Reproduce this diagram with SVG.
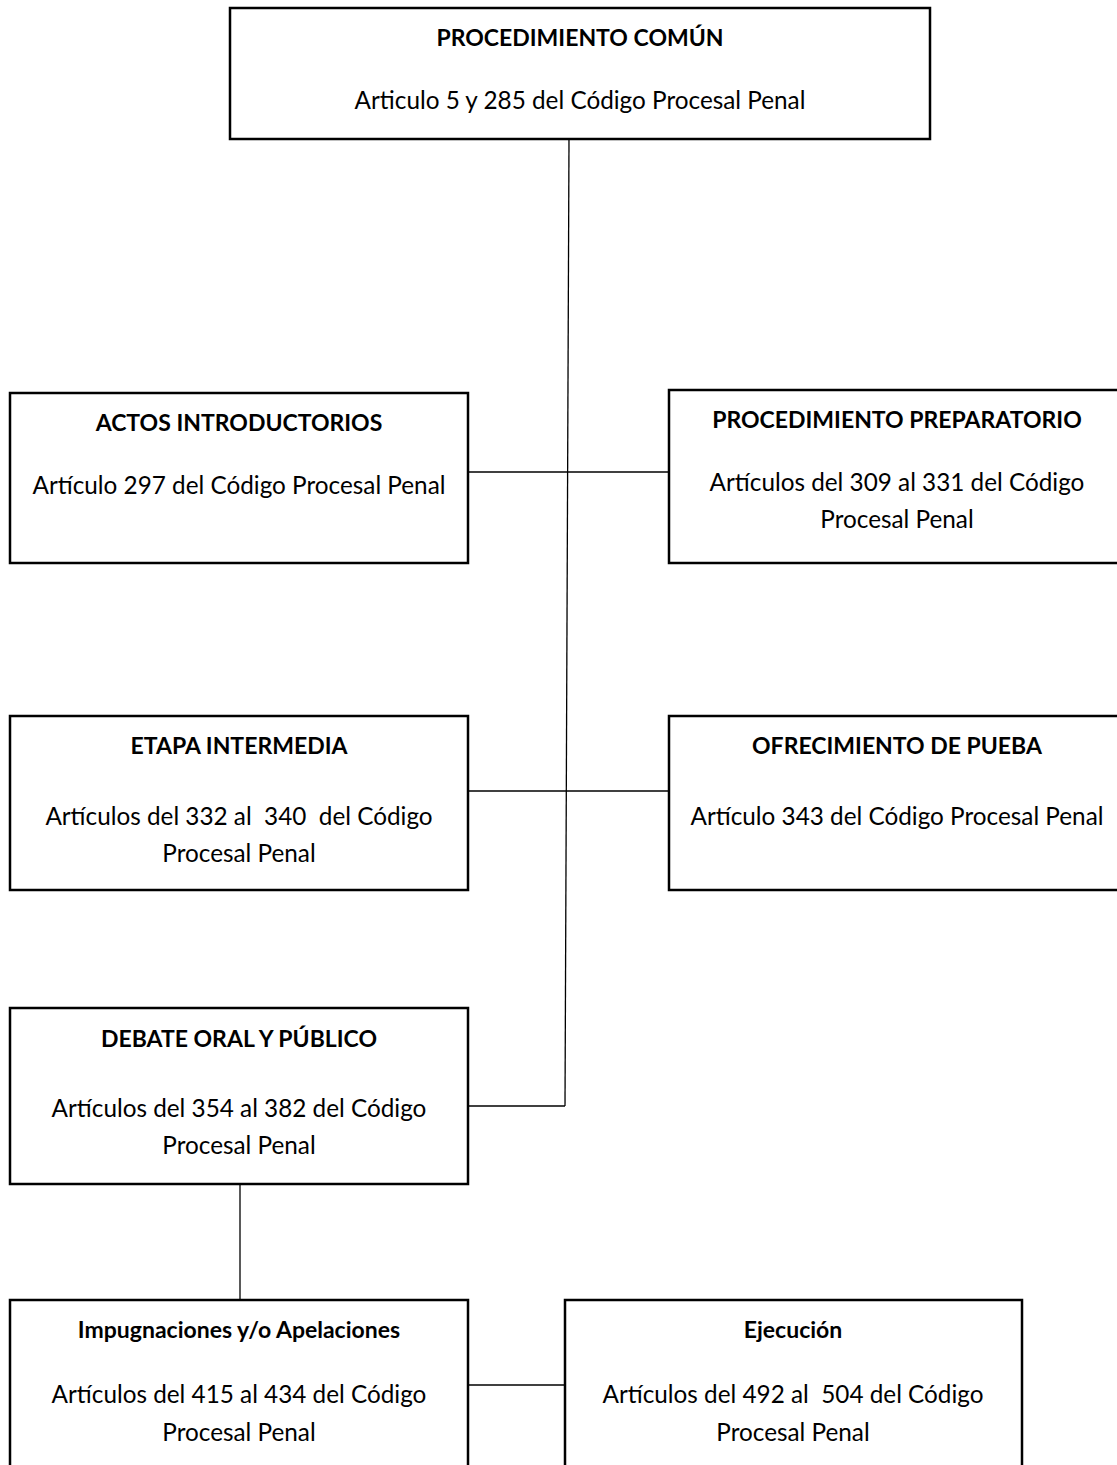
<svg xmlns="http://www.w3.org/2000/svg" width="1117" height="1465" viewBox="0 0 1117 1465">
<style>
.box{fill:#fff;stroke:#000;stroke-width:2.5}
.ln{stroke:#000;stroke-width:1.3;fill:none}
text{font-family:Lato,"Liberation Sans",sans-serif;font-size:24.3px;fill:#000;text-anchor:middle;white-space:pre}
.h{font-weight:bold;font-size:23px}
</style>
<rect width="1117" height="1465" fill="#fff"/>
<g id="connectors">
<line class="ln" x1="569" y1="139" x2="565" y2="1106"/>
<line class="ln" x1="468" y1="472" x2="669" y2="472"/>
<line class="ln" x1="468" y1="791" x2="669" y2="791"/>
<line class="ln" x1="468" y1="1106" x2="565" y2="1106"/>
<line class="ln" x1="240" y1="1184" x2="240" y2="1300"/>
<line class="ln" x1="468" y1="1385" x2="565" y2="1385"/>
</g>
<g id="n-comun">
<rect class="box" x="230" y="8" width="700" height="131"/>
<text class="h" x="580" y="46">PROCEDIMIENTO COMÚN</text>
<text x="580" y="109">Articulo 5 y 285 del Código Procesal Penal</text>
</g>
<g id="n-actos">
<rect class="box" x="10" y="393" width="458" height="170"/>
<text class="h" x="239" y="431">ACTOS INTRODUCTORIOS</text>
<text x="239" y="494">Artículo 297 del Código Procesal Penal</text>
</g>
<g id="n-preparatorio">
<rect class="box" x="669" y="390" width="460" height="173"/>
<text class="h" x="897" y="428">PROCEDIMIENTO PREPARATORIO</text>
<text x="897" y="491">Artículos del 309 al 331 del Código</text>
<text x="897" y="528">Procesal Penal</text>
</g>
<g id="n-intermedia">
<rect class="box" x="10" y="716" width="458" height="174"/>
<text class="h" x="239" y="754">ETAPA INTERMEDIA</text>
<text x="239" y="825" xml:space="preserve">Artículos del 332 al  340  del Código</text>
<text x="239" y="862">Procesal Penal</text>
</g>
<g id="n-prueba">
<rect class="box" x="669" y="716" width="460" height="174"/>
<text class="h" x="897" y="754">OFRECIMIENTO DE PUEBA</text>
<text x="897" y="825">Artículo 343 del Código Procesal Penal</text>
</g>
<g id="n-debate">
<rect class="box" x="10" y="1008" width="458" height="176"/>
<text class="h" x="239" y="1047">DEBATE ORAL Y PÚBLICO</text>
<text x="239" y="1117">Artículos del 354 al 382 del Código</text>
<text x="239" y="1154">Procesal Penal</text>
</g>
<g id="n-impugnaciones">
<rect class="box" x="10" y="1300" width="458" height="180"/>
<text class="h" x="239" y="1338">Impugnaciones y/o Apelaciones</text>
<text x="239" y="1403">Artículos del 415 al 434 del Código</text>
<text x="239" y="1441">Procesal Penal</text>
</g>
<g id="n-ejecucion">
<rect class="box" x="565" y="1300" width="457" height="180"/>
<text class="h" x="793" y="1338">Ejecución</text>
<text x="793" y="1403" xml:space="preserve">Artículos del 492 al  504 del Código</text>
<text x="793" y="1441">Procesal Penal</text>
</g>
</svg>
